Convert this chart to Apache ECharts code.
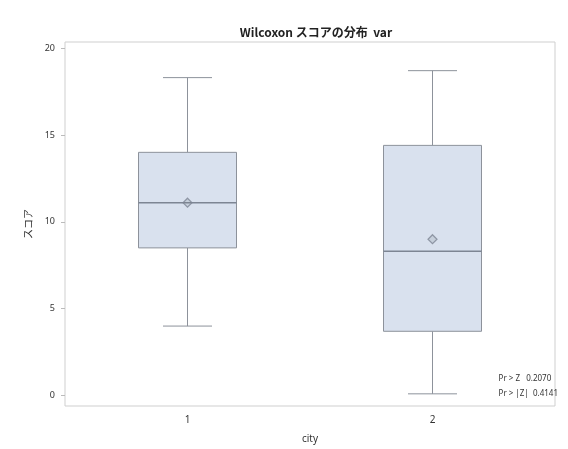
<!DOCTYPE html>
<html>
<head>
<meta charset="UTF-8">
<title>Wilcoxon スコアの分布</title>
<script src="https://cdn.jsdelivr.net/npm/echarts@6/dist/echarts.min.js"></script>
<style>
  html, body { margin: 0; padding: 0; background: #fff; }
  #main { width: 568px; height: 449px; }
</style>
</head>
<body>
<div id="main"></div>
<script>
// groups on the x axis
var groups = ['1', '2'];
// [min, Q1, median, Q3, max] per group
var boxStats = [
  [4.0, 8.5, 11.1, 14.0, 18.3],
  [0.1, 3.7, 8.3, 14.4, 18.7]
];
// mean score per group
var means = [11.1, 9.0];
var yTicks = [0, 5, 10, 15, 20];
var insetLines = ['Pr > Z   0.2070', 'Pr > |Z|  0.4141'];

var chart = echarts.init(document.getElementById('main'));

function renderBox(params, api) {
  var i = api.value(0);
  var bw = api.size([1, 0])[0] * 0.4;
  var pMin = api.coord([i, api.value(1)]);
  var pQ1 = api.coord([i, api.value(2)]);
  var pMed = api.coord([i, api.value(3)]);
  var pQ3 = api.coord([i, api.value(4)]);
  var pMax = api.coord([i, api.value(5)]);
  var x = pMed[0];
  var line = { stroke: '#8d929b', lineWidth: 1 };
  return {
    type: 'group',
    children: [
      { type: 'line', shape: { x1: x, y1: pQ3[1], x2: x, y2: pMax[1] }, style: line },
      { type: 'line', shape: { x1: x, y1: pQ1[1], x2: x, y2: pMin[1] }, style: line },
      { type: 'line', shape: { x1: x - bw / 4, y1: pMax[1], x2: x + bw / 4, y2: pMax[1] }, style: line },
      { type: 'line', shape: { x1: x - bw / 4, y1: pMin[1], x2: x + bw / 4, y2: pMin[1] }, style: line },
      {
        type: 'rect',
        shape: { x: x - bw / 2, y: pQ3[1], width: bw, height: pQ1[1] - pQ3[1] },
        style: { fill: '#d9e1ee', stroke: '#8d929b', lineWidth: 1 }
      },
      { type: 'line', shape: { x1: x - bw / 2, y1: pMed[1], x2: x + bw / 2, y2: pMed[1] }, style: { stroke: '#7d8593', lineWidth: 1.5 } }
    ]
  };
}

var option = {
  backgroundColor: '#fff',
  animation: false,
  title: {
    text: 'Wilcoxon スコアの分布  var',
    left: 311,
    textAlign: 'center',
    top: 21,
    textStyle: { fontSize: 12, fontWeight: 'bold', color: '#222', fontFamily: 'Noto Sans CJK JP' }
  },
  grid: { left: 65, right: 13, top: 42, bottom: 41, show: true, borderColor: '#cfcfcf', borderWidth: 1 },
  xAxis: {
    type: 'category',
    data: groups,
    name: 'city',
    nameLocation: 'middle',
    nameGap: 28,
    nameTextStyle: { fontSize: 10, color: '#333', fontFamily: 'Noto Sans' },
    axisLine: { show: false },
    axisTick: { show: false },
    axisLabel: { fontSize: 10, color: '#333', margin: 9, fontFamily: 'Noto Sans' },
    splitLine: { show: false }
  },
  yAxis: {
    type: 'value',
    min: -0.6,
    max: 20.35,
    name: 'スコア',
    nameLocation: 'middle',
    nameGap: 32,
    nameTextStyle: { fontSize: 10, color: '#333', fontFamily: 'Noto Sans CJK JP' },
    axisLine: { show: false },
    axisTick: { show: true, length: 4, customValues: yTicks, lineStyle: { color: '#bbb' } },
    axisLabel: { fontSize: 9, color: '#333', margin: 10, customValues: yTicks, fontFamily: 'Noto Sans' },
    splitLine: { show: false }
  },
  series: [
    {
      type: 'custom',
      renderItem: renderBox,
      encode: { x: 0, y: [1, 2, 3, 4, 5] },
      data: boxStats.map(function (s, i) { return [i].concat(s); })
    },
    {
      type: 'scatter',
      data: means,
      symbol: 'diamond',
      symbolSize: 9,
      itemStyle: { color: 'rgba(125,133,147,0.25)', borderColor: '#7d8593', borderWidth: 1.2 },
      z: 5
    }
  ],
  graphic: [
    {
      type: 'text',
      right: 10,
      top: 371,
      style: {
        text: insetLines.join('\n'),
        fill: '#333',
        fontSize: 8,
        lineHeight: 15,
        fontFamily: 'Noto Sans'
      }
    }
  ]
};

chart.setOption(option);
</script>
</body>
</html>
